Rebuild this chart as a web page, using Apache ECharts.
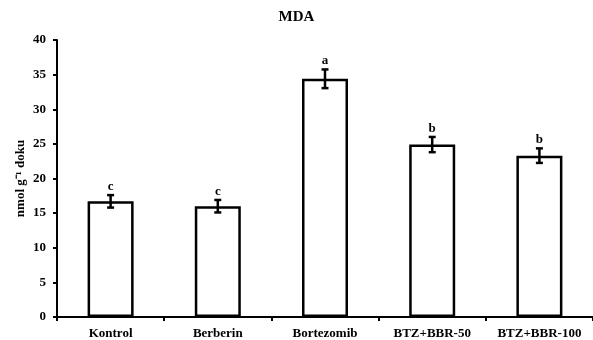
<!DOCTYPE html>
<html><head><meta charset="utf-8">
<script src="https://cdn.jsdelivr.net/npm/echarts@6/dist/echarts.min.js"></script>
<style>html,body{margin:0;padding:0;background:#fff}#c{width:593px;height:340px}</style>
</head><body><div id="c"></div>
<script>
var categories = ['Kontrol', 'Berberin', 'Bortezomib', 'BTZ+BBR-50', 'BTZ+BBR-100'];
var means = [16.7, 16.0, 34.4, 24.9, 23.3];
var errors = [0.9, 0.9, 1.35, 1.1, 1.05];
var letters = ['c', 'c', 'a', 'b', 'b'];
var yTicks = [0, 5, 10, 15, 20, 25, 30, 35, 40];

var FONT = '"Liberation Serif", "Times New Roman", serif';
var chart = echarts.init(document.getElementById('c'));
var errData = means.map(function (m, i) { return [i, m - errors[i], m + errors[i], letters[i]]; });

chart.setOption({
  animation: false,
  title: { text: 'MDA', left: 'center', top: 5, textStyle: { fontFamily: FONT, fontWeight: 'bold', fontSize: 15, color: '#000' } },
  grid: { left: 57, right: 0, top: 40, bottom: 23, containLabel: false },
  xAxis: {
    type: 'category', data: categories, boundaryGap: true,
    axisLine: { lineStyle: { color: '#000', width: 2 } },
    axisTick: { show: true, length: 4, lineStyle: { color: '#000', width: 2 } },
    axisLabel: { interval: 0, color: '#000', fontFamily: FONT, fontWeight: 'bold', fontSize: 13, margin: 10 }
  },
  yAxis: {
    type: 'value', min: yTicks[0], max: yTicks[yTicks.length - 1], interval: 5,
    name: 'nmol g\u207B\u00B9 doku', nameLocation: 'middle', nameGap: 30, nameRotate: 90,
    nameMoveOverlap: false,
    nameTextStyle: { color: '#000', fontFamily: FONT, fontWeight: 'bold', fontSize: 13 },
    axisLine: { show: true, lineStyle: { color: '#000', width: 2 } },
    axisTick: { show: true, length: 4, lineStyle: { color: '#000', width: 2 } },
    splitLine: { show: false },
    axisLabel: { color: '#000', fontFamily: FONT, fontWeight: 'bold', fontSize: 13, margin: 11 }
  },
  series: [
    {
      type: 'bar', data: means, barWidth: 46,
      itemStyle: { color: '#fff', borderColor: '#000', borderWidth: 2.5 }
    },
    {
      type: 'custom', data: errData, z: 10,
      renderItem: function (params, api) {
        var x = api.value(0);
        var lo = api.coord([x, api.value(1)]);
        var hi = api.coord([x, api.value(2)]);
        var cx = lo[0], hw = 3.5;
        var st = { stroke: '#000', lineWidth: 2.5 };
        return {
          type: 'group', children: [
            { type: 'line', shape: { x1: cx, y1: lo[1], x2: cx, y2: hi[1] }, style: st },
            { type: 'line', shape: { x1: cx - hw, y1: lo[1], x2: cx + hw, y2: lo[1] }, style: st },
            { type: 'line', shape: { x1: cx - hw, y1: hi[1], x2: cx + hw, y2: hi[1] }, style: st },
            { type: 'text', style: { text: api.value(3), x: cx, y: hi[1] - 2, textAlign: 'center', textVerticalAlign: 'bottom', fill: '#000', font: 'bold 13px ' + FONT } }
          ]
        };
      }
    }
  ]
});
</script></body></html>
